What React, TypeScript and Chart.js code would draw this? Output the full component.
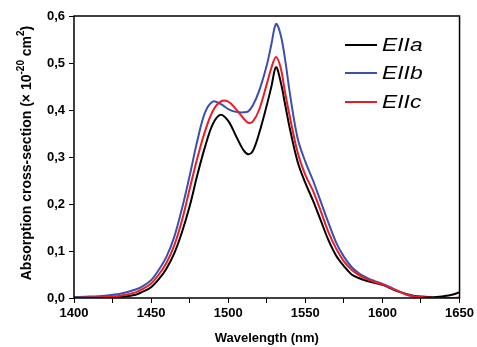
import React, { useEffect, useRef } from 'react';
import { Chart, registerables } from 'chart.js';

Chart.register(...registerables);

// ---- data ----
const wavelengths = [
  1400, 1410, 1420, 1430, 1440, 1445, 1450, 1455, 1460, 1465,
  1470, 1475, 1480, 1485, 1490, 1495, 1500, 1505, 1510, 1513,
  1516, 1520, 1525, 1528, 1531, 1534, 1537, 1540, 1545, 1550,
  1555, 1560, 1565, 1570, 1575, 1580, 1585, 1590, 1595, 1600,
  1605, 1610, 1615, 1620, 1625, 1630, 1635, 1640, 1645, 1650,
];
const eIIa = [
  0.0, 0.0, 0.0, 0.002, 0.007, 0.014, 0.023, 0.04, 0.063, 0.095,
  0.14, 0.195, 0.262, 0.322, 0.37, 0.39, 0.377, 0.345, 0.314, 0.306,
  0.313, 0.35, 0.41, 0.45, 0.491, 0.46, 0.41, 0.36, 0.29, 0.245,
  0.207, 0.165, 0.123, 0.09, 0.068, 0.05, 0.042, 0.036, 0.032, 0.028,
  0.021, 0.014, 0.009, 0.005, 0.003, 0.002, 0.002, 0.004, 0.007, 0.012,
];
const eIIb = [
  0.002, 0.003, 0.005, 0.009, 0.018, 0.026, 0.038, 0.06, 0.088, 0.13,
  0.19, 0.26, 0.335, 0.395, 0.418, 0.413, 0.402, 0.396, 0.395, 0.397,
  0.41, 0.44, 0.495, 0.54, 0.583, 0.56, 0.505, 0.435, 0.34, 0.29,
  0.25, 0.205, 0.16, 0.118, 0.088, 0.066, 0.052, 0.043, 0.036, 0.03,
  0.023, 0.015, 0.008, 0.003, 0.0, 0.0, 0.0, 0.0, 0.0, 0.0,
];
const eIIc = [
  0.0, 0.001, 0.002, 0.005, 0.012, 0.02, 0.031, 0.05, 0.075, 0.112,
  0.165, 0.232, 0.298, 0.355, 0.398, 0.418, 0.418, 0.402, 0.382, 0.373,
  0.376, 0.4, 0.455, 0.49, 0.513, 0.49, 0.435, 0.385, 0.31, 0.262,
  0.228, 0.185, 0.14, 0.105, 0.078, 0.06, 0.048, 0.04, 0.034, 0.029,
  0.022, 0.015, 0.008, 0.004, 0.002, 0.001, 0.0, 0.0, 0.0, 0.001,
];
const seriesLabels = ['EIIa', 'EIIb', 'EIIc'];
const seriesColors = ['#000000', '#3b4fae', '#ec1c26'];
const xTitle = 'Wavelength (nm)';
const yTitleParts = ['Absorption cross-section (× 10', '-20', ' cm', '2', ')'];
const yTitleSup = [false, true, false, true, false];

const FONT = "'Liberation Sans', Arial, sans-serif";

const framePlugin = {
  id: 'frameAndLegend',
  afterDraw(chart: any) {
    const { ctx, chartArea } = chart;
    ctx.save();
    // frame
    ctx.strokeStyle = '#000';
    ctx.lineWidth = 1.5;
    ctx.strokeRect(chartArea.left, chartArea.top, chartArea.right - chartArea.left, chartArea.bottom - chartArea.top);

    // legend
    const lx0 = 345, lx1 = 377, tx = 382;
    const ys = [45, 73, 102];
    chart.data.datasets.forEach((ds: any, i: number) => {
      ctx.strokeStyle = ds.borderColor;
      ctx.lineWidth = 2;
      ctx.beginPath();
      ctx.moveTo(lx0, ys[i]);
      ctx.lineTo(lx1, ys[i]);
      ctx.stroke();
      ctx.save();
      ctx.translate(tx, ys[i]);
      ctx.scale(1.2, 1);
      ctx.fillStyle = '#000';
      ctx.font = `italic 19px ${FONT}`;
      ctx.textBaseline = 'middle';
      ctx.textAlign = 'left';
      ctx.fillText(ds.label, 0, 1);
      ctx.restore();
    });

    // y title with superscripts
    const cy = (chartArea.top + chartArea.bottom) / 2 - 4;
    ctx.translate(27, cy);
    ctx.rotate(-Math.PI / 2);
    ctx.fillStyle = '#000';
    ctx.textBaseline = 'middle';
    ctx.textAlign = 'left';
    const fontFor = (sup: boolean) => (sup ? `bold 10px ${FONT}` : `bold 14px ${FONT}`);
    let total = 0;
    yTitleParts.forEach((t, i) => {
      ctx.font = fontFor(yTitleSup[i]);
      total += ctx.measureText(t).width;
    });
    let x = -total / 2;
    yTitleParts.forEach((t, i) => {
      ctx.font = fontFor(yTitleSup[i]);
      ctx.fillText(t, x, yTitleSup[i] ? -6 : 0);
      x += ctx.measureText(t).width;
    });
    ctx.restore();
  },
};

export default function App() {
  const ref = useRef<HTMLCanvasElement>(null);
  useEffect(() => {
    if (!ref.current) return;
    const series = [eIIa, eIIb, eIIc];
    const chart = new Chart(ref.current, {
      type: 'line',
      data: {
        datasets: series.map((vals, i) => ({
          label: seriesLabels[i],
          data: wavelengths.map((w, j) => ({ x: w, y: vals[j] })),
          borderColor: seriesColors[i],
          backgroundColor: seriesColors[i],
          borderWidth: 2,
          pointRadius: 0,
          tension: 0.35,
          order: 2 - i,
        })),
      },
      options: {
        responsive: false,
        animation: false,
        layout: { padding: { left: 0, top: 16, right: 16, bottom: 0 } },
        plugins: { legend: { display: false }, tooltip: { enabled: false } },
        scales: {
          x: {
            type: 'linear',
            min: 1400,
            max: 1650,
            afterFit: (s: any) => { s.height = 49; },
            border: { display: false },
            grid: { drawOnChartArea: false, drawTicks: true, tickLength: 5, color: '#000', lineWidth: 1 },
            ticks: {
              stepSize: 25,
              autoSkip: false,
              maxRotation: 0,
              padding: 3,
              color: '#000',
              font: { family: FONT, size: 13, weight: 'bold' },
              callback: (v: any) => (Number(v) % 50 === 0 ? String(v) : ''),
            },
            title: {
              display: true,
              text: xTitle,
              color: '#000',
              font: { family: FONT, size: 13, weight: 'bold' },
              padding: { top: 0, bottom: 1 },
            },
          },
          y: {
            type: 'linear',
            min: 0,
            max: 0.6,
            afterFit: (s: any) => { s.width = 74; },
            border: { display: false },
            grid: { drawOnChartArea: false, drawTicks: true, tickLength: 5, color: '#000', lineWidth: 1 },
            ticks: {
              stepSize: 0.1,
              padding: 4,
              color: '#000',
              font: { family: FONT, size: 13, weight: 'bold' },
              callback: (v: any) => Number(v).toFixed(1).replace('.', ','),
            },
          },
        },
      },
      plugins: [framePlugin],
    } as any);
    return () => chart.destroy();
  }, []);
  return (
    <div style={{ position: 'fixed', left: 0, top: 0, width: 477, height: 347, background: '#fff' }}>
      <canvas ref={ref} width={477} height={347} />
    </div>
  );
}
